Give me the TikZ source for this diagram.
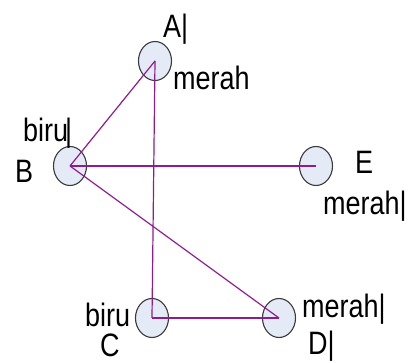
\documentclass[tikz,border=0pt]{standalone}
\usepackage{fontspec}
\setmainfont{Liberation Sans}
\usetikzlibrary{shapes.geometric}
\definecolor{edgecol}{HTML}{8E1C8E}
\definecolor{vfill}{HTML}{E4EAF6}
\definecolor{vdraw}{HTML}{3A3A3A}
\newcommand\sttxt[1]{\scalebox{1}[1.2]{#1}}
\tikzset{
  vtx/.style={ellipse, draw=vdraw, fill=vfill, line width=1.1pt, minimum width=33pt, minimum height=39pt, inner sep=0pt},
  lbl/.style={font=\fontsize{27}{27}\selectfont, inner sep=0pt, anchor=base west},
  edge/.style={draw=edgecol, line width=1.2pt}
}
\begin{document}
\begin{tikzpicture}[x=1pt,y=-1pt]
\useasboundingbox (0,0) rectangle (408,363);
\node[vtx] (A) at (155,61) {};
\node[vtx] (B) at (70,166) {};
\node[vtx] (E) at (316,166) {};
\node[vtx] (C) at (152,318) {};
\node[vtx] (D) at (279,318) {};
\draw[edge] (A.center) -- (B.center);
\draw[edge] (A.center) -- (C.center);
\draw[edge] (B.center) -- (E.center);
\draw[edge] (B.center) -- (D.center);
\draw[edge] (C.center) -- (D.center);
\node[lbl] (la) at (163,38) {\sttxt{A|}};
\node[lbl] (ma) at (173,90) {\sttxt{merah}};
\node[lbl] (lb) at (15,183) {\sttxt{B}};
\node[lbl] (bb) at (23,142) {\sttxt{biru\kern-3pt|}};
\node[lbl] (le) at (355,174) {\sttxt{E}};
\node[lbl] (me) at (323,215) {\sttxt{merah|}};
\node[lbl] (bc) at (85,327) {\sttxt{biru}};
\node[lbl] (lc) at (100,357) {\sttxt{C}};
\node[lbl] (md) at (302,318) {\sttxt{merah|}};
\node[lbl] (ld) at (308,355) {\sttxt{D|}};
\end{tikzpicture}
\end{document}
